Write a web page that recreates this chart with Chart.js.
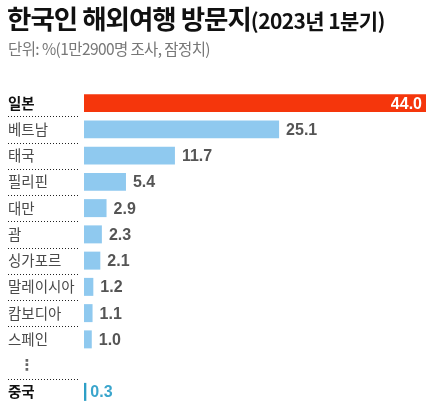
<!DOCTYPE html>
<html>
<head>
<meta charset="utf-8">
<script src="https://cdn.jsdelivr.net/npm/chart.js@4"></script>
<style>
  body { margin: 0; background: #fff; font-family: "Noto Sans CJK KR", sans-serif; }
  #wrap { position: relative; width: 433px; height: 407px; overflow: hidden; }
  #title { position: absolute; left: 7px; top: -2px; font-weight: 700; font-size: 26.5px; letter-spacing: -1px; color: #111; white-space: nowrap; }
  #title small { font-size: 21px; letter-spacing: -0.6px; }
  #sub { position: absolute; left: 8px; top: 37px; font-size: 15.5px; color: #777; letter-spacing: -0.6px; white-space: nowrap; }
  canvas { position: absolute; left: 0; top: 0; }
</style>
</head>
<body>
<div id="wrap">
  <canvas id="chart" width="433" height="407"></canvas>
  <div id="title">한국인 해외여행 방문지<small>(2023년 1분기)</small></div>
  <div id="sub">단위: %(1만2900명 조사, 잠정치)</div>
</div>
<script>
// 데이터
const categories = ['일본', '베트남', '태국', '필리핀', '대만', '괌', '싱가포르', '말레이시아', '캄보디아', '스페인', '⋮', '중국'];
const values = [44.0, 25.1, 11.7, 5.4, 2.9, 2.3, 2.1, 1.2, 1.1, 1.0, null, 0.3];
const boldRows = ['일본', '중국'];

const RED = '#f5360c';
const BLUE = '#8fc9ef';
const TEAL = '#2d9fc6';

function barColor(i) {
    if (i === 0) return RED;
    if (categories[i] === '중국') return TEAL;
    return BLUE;
}

// 점선 구분선 + 값 라벨
const extras = {
    id: 'extras',
    afterDatasetsDraw(chart) {
        const ctx = chart.ctx;
        const y = chart.scales.y;
        const meta = chart.getDatasetMeta(0);
        const step = y.getPixelForValue(1) - y.getPixelForValue(0);

        ctx.save();
        ctx.strokeStyle = '#222';
        ctx.lineWidth = 1;
        ctx.setLineDash([1, 2]);
        for (let i = 0; i < categories.length - 1; i++) {
            // 스페인 아래에는 선이 없음
            if (categories[i + 1] === '⋮') continue;
            const yy = Math.round(y.getPixelForValue(i) + step / 2) + 0.5;
            ctx.beginPath();
            ctx.moveTo(8, yy);
            ctx.lineTo(79, yy);
            ctx.stroke();
        }
        ctx.setLineDash([]);

        // 생략 표시
        ctx.fillStyle = '#666';
        ctx.font = '700 15px "DejaVu Sans"';
        ctx.textAlign = 'center';
        ctx.textBaseline = 'middle';
        ctx.fillText('⋮', 27, y.getPixelForValue(categories.indexOf('⋮')));

        ctx.font = '700 16px "Liberation Sans", Arial, sans-serif';
        meta.data.forEach((bar, i) => {
            const v = values[i];
            if (v === null) return;
            const txt = v.toFixed(1);
            if (i === 0) {
                ctx.fillStyle = '#fff';
                ctx.textAlign = 'right';
                ctx.fillText(txt, bar.x - 4, bar.y + 1);
            } else {
                ctx.fillStyle = categories[i] === '중국' ? '#3aa5cc' : '#555';
                ctx.textAlign = 'left';
                ctx.fillText(txt, bar.x + (categories[i] === '중국' ? 4 : 7), bar.y + 1);
            }
        });
        ctx.restore();
    }
};

new Chart(document.getElementById('chart'), {
    type: 'bar',
    data: {
        labels: categories,
        datasets: [{
            data: values,
            backgroundColor: categories.map((c, i) => barColor(i)),
            borderWidth: 0,
            barPercentage: 0.685,
            categoryPercentage: 1
        }]
    },
    options: {
        indexAxis: 'y',
        responsive: false,
        animation: false,
        layout: { padding: { left: 8, right: 7, top: 90, bottom: 2 } },
        plugins: { legend: { display: false }, tooltip: { enabled: false } },
        scales: {
            x: { display: false, min: 0, max: 44 },
            y: {
                grid: { display: false },
                border: { display: false },
                afterFit(scale) {
                    scale.width = 76;
                    scale.paddingTop = 0;
                    scale.paddingBottom = 0;
                },
                ticks: {
                    crossAlign: 'far',
                    padding: 0,
                    autoSkip: false,
                    callback: (v, i) => categories[i] === '⋮' ? '' : categories[i],
                    color: (c) => boldRows.includes(categories[c.index]) ? '#111' : '#4a4a4a',
                    font: (c) => ({
                        family: '"Noto Sans CJK KR", sans-serif',
                        size: 14.5,
                        weight: boldRows.includes(categories[c.index]) ? '700' : '400'
                    })
                }
            }
        }
    },
    plugins: [extras]
});
</script>
</body>
</html>
